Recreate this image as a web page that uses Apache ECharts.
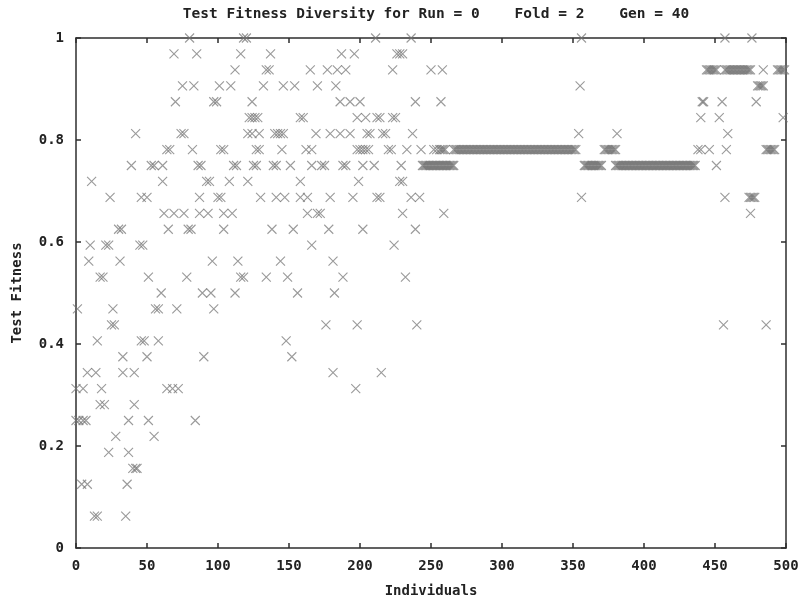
<!DOCTYPE html>
<html>
<head>
<meta charset="utf-8">
<script src="https://cdn.jsdelivr.net/npm/echarts@6/dist/echarts.min.js"></script>
<style>html,body{margin:0;padding:0;background:#fff}#c{width:804px;height:598px}</style>
</head>
<body>
<div id="c"></div>
<script>
const titleText = 'Test Fitness Diversity for Run = 0    Fold = 2    Gen = 40';
const xTicks = [0, 50, 100, 150, 200, 250, 300, 350, 400, 450, 500];
const yTicks = [0, 0.2, 0.4, 0.6, 0.8, 1];

// fitness values (multiples of 1/32) and the individuals that reach each of them
const fitnessLevels = [1, 0.96875, 0.9375, 0.90625, 0.875, 0.84375, 0.8125, 0.78125, 0.75,
  0.71875, 0.6875, 0.65625, 0.625, 0.59375, 0.5625, 0.53125, 0.5, 0.46875, 0.4375,
  0.40625, 0.375, 0.34375, 0.3125, 0.28125, 0.25, 0.21875, 0.1875, 0.15625, 0.125, 0.0625];

const individualsByLevel = [
  [80, 118, 120, 211, 236, 356, 457, 476],
  [69, 85, 116, 137, 187, 196, 226, 228, 230],
  [112, 134, 136, 165, 177, 184, 190, 223, 250, 258, 444, 445, 446, 447, 448, 449, 450, 451,
   457, 458, 459, 460, 461, 462, 463, 464, 465, 466, 467, 468, 469, 470, 471, 472, 473, 474, 475,
   484, 494, 495, 496, 497, 498, 499],
  [75, 83, 101, 109, 132, 146, 154, 170, 183, 355, 480, 481, 482, 483, 484],
  [70, 97, 99, 124, 186, 193, 200, 239, 257, 441, 442, 455, 479],
  [122, 124, 126, 128, 158, 160, 198, 204, 212, 214, 223, 225, 440, 453, 498],
  [42, 74, 76, 121, 124, 129, 140, 142, 144, 146, 169, 179, 186, 193, 205, 207, 216, 218, 237, 354, 381, 459],
  [64, 66, 82, 102, 104, 127, 129, 145, 162, 166, 198, 200, 202, 204, 206, 220, 222, 233, 243, 252, 254,
   256, 257, 258, 259, 260, 266, 267, 268, 269, 270, 271, 272, 273, 274, 275, 276, 277, 278, 279, 280,
   281, 282, 283, 284, 285, 286, 287, 288, 289, 290, 291, 292, 293, 294, 295, 296, 297, 298, 299, 300,
   301, 302, 303, 304, 305, 306, 307, 308, 309, 310, 311, 312, 313, 314, 315, 316, 317, 318, 319, 320,
   321, 322, 323, 324, 325, 326, 327, 328, 329, 330, 331, 332, 333, 334, 335, 336, 337, 338, 339, 340,
   341, 342, 343, 344, 345, 346, 347, 348, 349, 350, 351, 352,
   372, 373, 374, 375, 376, 377, 378, 379, 380, 438, 440, 446, 458, 486, 487, 488, 489, 490, 491, 492],
  [39, 53, 55, 61, 86, 88, 111, 113, 125, 127, 139, 141, 151, 166, 173, 175, 188, 190, 202, 210, 229,
   244, 245, 246, 247, 248, 249, 250, 251, 252, 253, 254, 255, 256, 257, 258, 259, 260, 261, 262, 263, 264, 265, 266,
   358, 359, 360, 361, 362, 363, 364, 365, 366, 367, 368, 369, 370,
   380, 381, 382, 383, 384, 385, 386, 387, 388, 389, 390, 391, 392, 393, 394, 395, 396, 397, 398, 399, 400,
   401, 402, 403, 404, 405, 406, 407, 408, 409, 410, 411, 412, 413, 414, 415, 416, 417, 418, 419, 420,
   421, 422, 423, 424, 425, 426, 427, 428, 429, 430, 431, 432, 433, 434, 435, 436, 451],
  [11, 61, 92, 94, 108, 121, 158, 199, 228, 230],
  [24, 46, 50, 87, 100, 102, 130, 141, 147, 158, 163, 179, 195, 212, 214, 236, 242, 356, 457, 474, 475, 476, 477, 478],
  [62, 69, 76, 87, 93, 104, 110, 163, 170, 172, 230, 259, 475],
  [30, 32, 65, 79, 81, 104, 138, 153, 178, 202, 239],
  [10, 21, 23, 45, 47, 166, 224],
  [9, 31, 96, 114, 144, 181],
  [17, 19, 51, 78, 116, 118, 134, 149, 188, 232],
  [60, 89, 95, 112, 156, 182],
  [1, 26, 56, 58, 71, 97],
  [25, 27, 176, 198, 240, 456, 486],
  [15, 46, 48, 58, 148],
  [33, 50, 90, 152],
  [8, 14, 33, 41, 181, 215],
  [0, 5, 18, 64, 68, 72, 197],
  [17, 20, 41],
  [0, 2, 5, 7, 37, 51, 84],
  [28, 55],
  [23, 37],
  [40, 42, 43],
  [4, 8, 36],
  [13, 15, 35]
];

const points = [];
fitnessLevels.forEach((f, li) => {
  individualsByLevel[li].forEach(ind => points.push([ind, f]));
});

const FONT = 'DejaVu Sans Mono';
const axisColor = '#2e2e2e';
const labelStyle = { fontFamily: FONT, fontWeight: 'bold', fontSize: 14, color: '#222' };

const chart = echarts.init(document.getElementById('c'), null, { renderer: 'canvas' });
chart.setOption({
  animation: false,
  backgroundColor: '#fff',
  title: {
    text: titleText,
    left: 431,
    textAlign: 'center',
    top: 2,
    textStyle: { fontFamily: FONT, fontWeight: 'bold', fontSize: 14.5, color: '#222' }
  },
  grid: { left: 76, right: 18, top: 38, bottom: 50, containLabel: false, outerBoundsMode: 'none' },
  xAxis: [
    {
      type: 'value', min: xTicks[0], max: xTicks[xTicks.length - 1], interval: 50,
      name: 'Individuals', nameLocation: 'middle', nameGap: 36,
      nameTextStyle: labelStyle,
      axisLine: { show: true, lineStyle: { color: axisColor, width: 1.5 } },
      axisTick: { show: true, inside: true, length: 5, lineStyle: { color: axisColor, width: 1.5 } },
      axisLabel: Object.assign({ margin: 11 }, labelStyle),
      splitLine: { show: false }
    },
    {
      type: 'value', position: 'top', min: 0, max: 500, interval: 50,
      axisLine: { show: true, onZero: false, lineStyle: { color: axisColor, width: 1.5 } },
      axisTick: { show: true, inside: true, length: 5, lineStyle: { color: axisColor, width: 1.5 } },
      axisLabel: { show: false }, splitLine: { show: false }
    }
  ],
  yAxis: [
    {
      type: 'value', min: yTicks[0], max: yTicks[yTicks.length - 1], interval: 0.2,
      name: 'Test Fitness', nameLocation: 'middle', nameGap: 52,
      nameTextStyle: labelStyle,
      axisLine: { show: true, lineStyle: { color: axisColor, width: 1.5 } },
      axisTick: { show: true, inside: true, length: 5, lineStyle: { color: axisColor, width: 1.5 } },
      axisLabel: Object.assign({ margin: 12 }, labelStyle),
      splitLine: { show: false }
    },
    {
      type: 'value', position: 'right', min: 0, max: 1, interval: 0.2,
      axisLine: { show: true, onZero: false, lineStyle: { color: axisColor, width: 1.5 } },
      axisTick: { show: true, inside: true, length: 5, lineStyle: { color: axisColor, width: 1.5 } },
      axisLabel: { show: false }, splitLine: { show: false }
    }
  ],
  series: [{
    type: 'scatter',
    xAxisIndex: 0, yAxisIndex: 0,
    data: points,
    symbol: 'path://M0 0L10 10M10 0L0 10',
    symbolSize: [9, 9],
    itemStyle: { color: 'none', borderColor: 'rgba(115,115,115,0.9)', borderWidth: 1.1 },
    emphasis: { disabled: true },
    silent: true
  }]
});
</script>
</body>
</html>
